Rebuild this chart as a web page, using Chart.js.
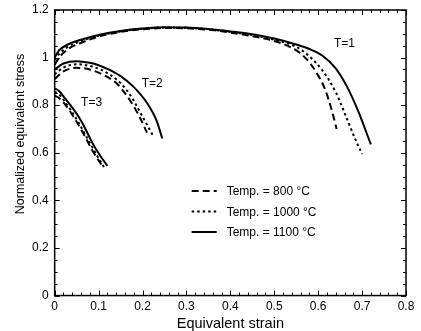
<!DOCTYPE html>
<html>
<head>
<meta charset="utf-8">
<script src="https://cdn.jsdelivr.net/npm/chart.js@4.4.0/dist/chart.umd.min.js"></script>
<style>
  html, body { margin: 0; padding: 0; background: #fff; }
  #wrap { width: 421px; height: 331px; }
</style>
</head>
<body>
<div id="wrap"><canvas id="chart"></canvas></div>
<script>
// ─── Data ────────────────────────────────────────────────────────────────
const X_TICKS = [0, 0.1, 0.2, 0.3, 0.4, 0.5, 0.6, 0.7, 0.8];
const Y_TICKS = [0, 0.2, 0.4, 0.6, 0.8, 1, 1.2];

// T=1
const t1Strain1100 = [0, 0.01, 0.03, 0.06, 0.1, 0.15, 0.2, 0.25, 0.3, 0.35, 0.4, 0.45, 0.5, 0.55, 0.58, 0.61, 0.64, 0.665, 0.69, 0.72];
const t1Stress1100 = [1.0, 1.03, 1.055, 1.075, 1.095, 1.112, 1.122, 1.127, 1.126, 1.12, 1.11, 1.098, 1.08, 1.055, 1.036, 1.008, 0.955, 0.88, 0.78, 0.635];
const t1Strain1000 = [0, 0.01, 0.03, 0.06, 0.1, 0.15, 0.2, 0.25, 0.3, 0.35, 0.4, 0.45, 0.5, 0.55, 0.58, 0.61, 0.64, 0.665, 0.685, 0.70];
const t1Stress1000 = [0.99, 1.015, 1.045, 1.07, 1.092, 1.11, 1.121, 1.126, 1.125, 1.119, 1.108, 1.095, 1.075, 1.045, 1.005, 0.945, 0.855, 0.745, 0.655, 0.595];
const t1Strain800  = [0, 0.01, 0.03, 0.06, 0.1, 0.15, 0.2, 0.25, 0.3, 0.35, 0.4, 0.45, 0.5, 0.53, 0.558, 0.58, 0.6, 0.615, 0.63, 0.642];
const t1Stress800  = [0.97, 1.0, 1.035, 1.062, 1.088, 1.108, 1.119, 1.124, 1.123, 1.117, 1.105, 1.09, 1.07, 1.05, 1.02, 0.98, 0.925, 0.87, 0.785, 0.70];

// T=2
const t2Strain1100 = [0, 0.02, 0.05, 0.08, 0.1, 0.125, 0.15, 0.178, 0.21, 0.232, 0.245];
const t2Stress1100 = [0.95, 0.975, 0.985, 0.978, 0.968, 0.948, 0.922, 0.88, 0.81, 0.735, 0.66];
const t2Strain1000 = [0, 0.02, 0.05, 0.08, 0.11, 0.141, 0.16, 0.178, 0.2, 0.223];
const t2Stress1000 = [0.93, 0.958, 0.972, 0.965, 0.945, 0.908, 0.872, 0.825, 0.752, 0.675];
const t2Strain800  = [0, 0.02, 0.05, 0.08, 0.11, 0.141, 0.155, 0.171, 0.194, 0.21];
const t2Stress800  = [0.91, 0.942, 0.957, 0.95, 0.928, 0.892, 0.862, 0.822, 0.748, 0.685];

// T=3
const t3Strain1100 = [0, 0.01, 0.023, 0.04, 0.055, 0.07, 0.084, 0.1, 0.12];
const t3Stress1100 = [0.87, 0.86, 0.83, 0.79, 0.75, 0.70, 0.648, 0.598, 0.545];
const t3Strain1000 = [0, 0.01, 0.025, 0.04, 0.055, 0.07, 0.085, 0.1, 0.114];
const t3Stress1000 = [0.855, 0.845, 0.81, 0.77, 0.725, 0.675, 0.625, 0.577, 0.535];
const t3Strain800  = [0, 0.01, 0.025, 0.04, 0.055, 0.07, 0.085, 0.1, 0.108];
const t3Stress800  = [0.84, 0.83, 0.80, 0.76, 0.715, 0.665, 0.612, 0.568, 0.545];

const X_TITLE = "Equivalent strain";
const Y_TITLE = "Normalized equivalent stress";
const LEGEND_LABELS = ["Temp. = 800 \u00B0C", "Temp. = 1000 \u00B0C", "Temp. = 1100 \u00B0C"];
const CURVE_LABELS  = [
    { text: "T=1", x: 0.66,  y: 1.06 },
    { text: "T=2", x: 0.222, y: 0.89 },
    { text: "T=3", x: 0.084, y: 0.81 },
];

// ─── Styles ──────────────────────────────────────────────────────────────
const FONT = "'Liberation Sans', Arial, sans-serif";
const DASH = {
    800:  [7, 4],
    1000: [2.5, 3],
    1100: [],
};

const pts = (xs, ys) => xs.map((x, i) => ({ x: x, y: ys[i] }));
const fmt = (v) => String(+Number(v).toFixed(2));

function curve(xs, ys, temp) {
    return {
        data: pts(xs, ys),
        borderColor: "#000",
        borderWidth: 2,
        borderDash: DASH[temp],
        pointRadius: 0,
        fill: false,
        tension: 0.4,
        cubicInterpolationMode: "monotone",
    };
}

// Inward ticks on all four sides, the frame, y title, legend and T labels
const framePlugin = {
    id: "frame",
    afterDraw(chart) {
        const { ctx, chartArea: a, scales: { x, y } } = chart;
        ctx.save();
        ctx.strokeStyle = "#000";
        ctx.lineWidth = 1.5;
        ctx.strokeRect(a.left, a.top, a.right - a.left, a.bottom - a.top);

        ctx.lineWidth = 1;
        ctx.beginPath();
        for (let i = 0; i <= 40; i++) {
            const v = i * 0.02;
            const px = Math.round(x.getPixelForValue(v)) + 0.5;
            const len = i % 5 === 0 ? 5 : 3;
            ctx.moveTo(px, a.bottom); ctx.lineTo(px, a.bottom - len);
            ctx.moveTo(px, a.top);    ctx.lineTo(px, a.top + len);
        }
        for (let i = 0; i <= 24; i++) {
            const v = i * 0.05;
            const py = Math.round(y.getPixelForValue(v)) + 0.5;
            const len = i % 4 === 0 ? 5 : 3;
            ctx.moveTo(a.left, py);  ctx.lineTo(a.left + len, py);
            ctx.moveTo(a.right, py); ctx.lineTo(a.right - len, py);
        }
        ctx.stroke();

        ctx.fillStyle = "#000";
        ctx.textAlign = "center";
        ctx.textBaseline = "middle";

        // y title (sits a bit above the plot's middle in the original)
        ctx.save();
        ctx.translate(a.left - 34, a.top + 124);
        ctx.rotate(-Math.PI / 2);
        ctx.font = "12.5px " + FONT;
        ctx.fillText(Y_TITLE, 0, 0);
        ctx.restore();

        // curve labels
        ctx.font = "12px " + FONT;
        CURVE_LABELS.forEach((l) => {
            ctx.fillText(l.text, x.getPixelForValue(l.x), y.getPixelForValue(l.y));
        });

        // legend
        const temps = [800, 1000, 1100];
        const lx0 = a.left + 137, lx1 = a.left + 162, tx = a.left + 172;
        temps.forEach((t, i) => {
            const ly = a.top + 181 + i * 20.5;
            ctx.lineWidth = 2;
            ctx.setLineDash(DASH[t]);
            ctx.beginPath();
            ctx.moveTo(lx0, ly);
            ctx.lineTo(lx1, ly);
            ctx.stroke();
            ctx.setLineDash([]);
            ctx.textAlign = "left";
            ctx.fillText(LEGEND_LABELS[i], tx, ly + 1);
        });
        ctx.restore();
    },
};

new Chart(document.getElementById("chart"), {
    type: "line",
    data: {
        datasets: [
            curve(t1Strain800,  t1Stress800,  800),
            curve(t1Strain1000, t1Stress1000, 1000),
            curve(t1Strain1100, t1Stress1100, 1100),
            curve(t2Strain800,  t2Stress800,  800),
            curve(t2Strain1000, t2Stress1000, 1000),
            curve(t2Strain1100, t2Stress1100, 1100),
            curve(t3Strain800,  t3Stress800,  800),
            curve(t3Strain1000, t3Stress1000, 1000),
            curve(t3Strain1100, t3Stress1100, 1100),
        ],
    },
    options: {
        responsive: true,
        maintainAspectRatio: false,
        animation: false,
        layout: { padding: { left: 26, right: 15, top: 10, bottom: 0 } },
        plugins: {
            legend: { display: false },
            tooltip: { enabled: false },
        },
        scales: {
            x: {
                type: "linear",
                min: 0,
                max: 0.8,
                afterBuildTicks: (s) => { s.ticks = X_TICKS.map((v) => ({ value: v })); },
                grid: { display: false, drawTicks: false },
                border: { display: false },
                ticks: { color: "#000", padding: 4, callback: fmt, font: { family: FONT, size: 12 } },
                title: {
                    display: true,
                    text: X_TITLE,
                    color: "#000",
                    padding: { top: 0, bottom: 0 },
                    font: { family: FONT, size: 14.5, lineHeight: 0.9 },
                },
            },
            y: {
                type: "linear",
                min: 0,
                max: 1.2,
                afterBuildTicks: (s) => { s.ticks = Y_TICKS.map((v) => ({ value: v })); },
                afterFit: (s) => { s.paddingTop = 0; s.paddingBottom = 0; },
                grid: { display: false, drawTicks: false },
                border: { display: false },
                ticks: { color: "#000", padding: 6, callback: fmt, font: { family: FONT, size: 12 } },
                title: { display: false },
            },
        },
    },
    plugins: [framePlugin],
});
</script>
</body>
</html>
